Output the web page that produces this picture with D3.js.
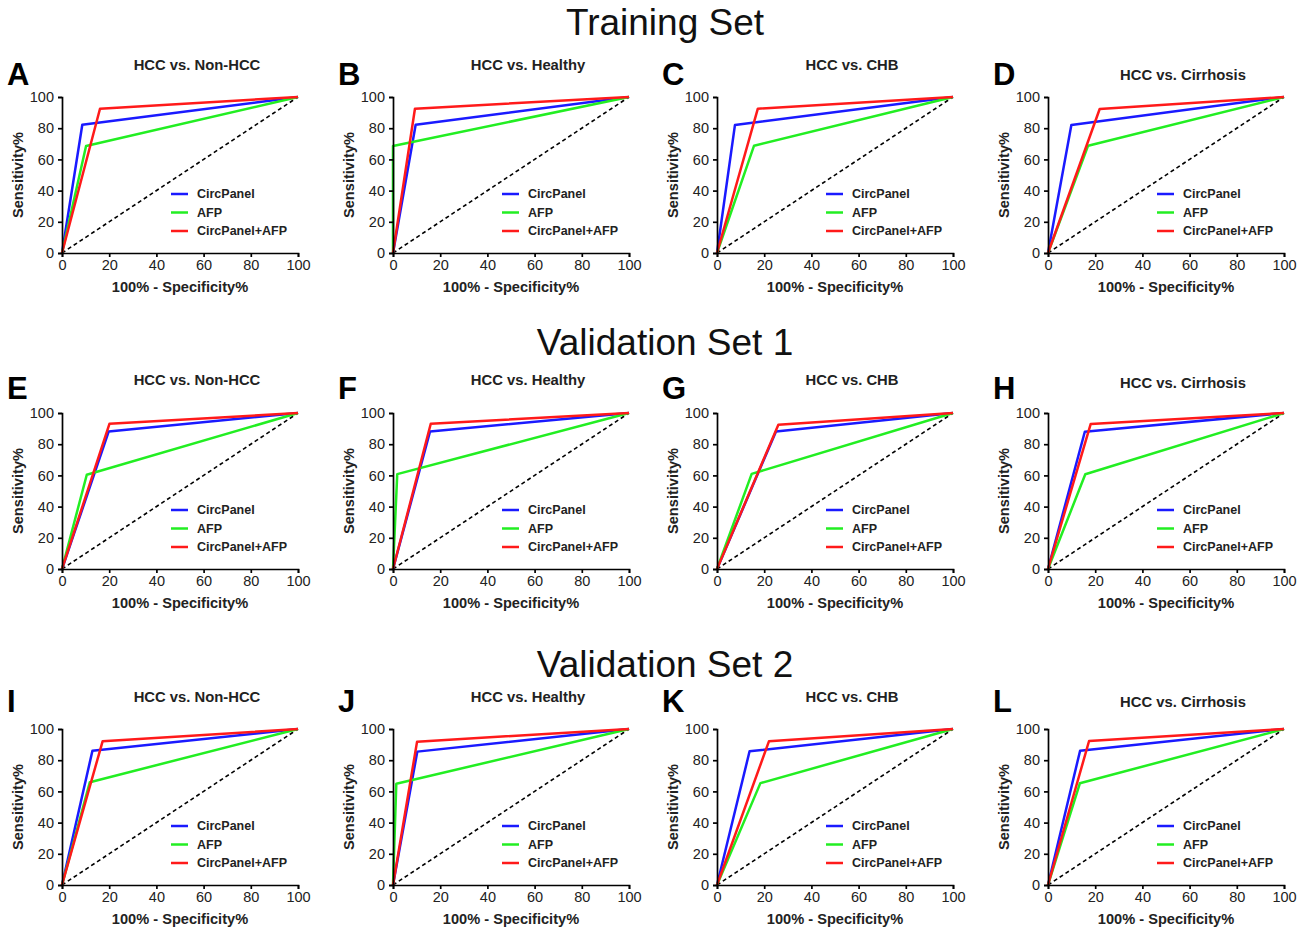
<!DOCTYPE html>
<html>
<head>
<meta charset="utf-8">
<script src="https://cdn.jsdelivr.net/npm/d3@7"></script>
<style>
  body { margin: 0; background: #fff; }
  svg { display: block; font-family: Arial, "Liberation Sans", sans-serif; }
</style>
</head>
<body>
<div id="chart"></div>
<script>
// ---- data ----
var rowTitles = ["Training Set", "Validation Set 1", "Validation Set 2"];
var panelLetters = ["A","B","C","D","E","F","G","H","I","J","K","L"];
var comparisons = ["HCC vs. Non-HCC", "HCC vs. Healthy", "HCC vs. CHB", "HCC vs. Cirrhosis"];
var seriesNames = ["CircPanel", "AFP", "CircPanel+AFP"];
var seriesColors = ["#1a1aff", "#22ee22", "#ff1a1a"];
var axisTicks = [0, 20, 40, 60, 80, 100];

// cut-off point of each ROC curve: [100% - Specificity%, Sensitivity%], panels A..L
var circPanel = [[8.6,82.2],[9.6,82.2],[7.6,82],[9.9,82],
                 [19.8,88.2],[15.7,88.2],[25,88.2],[15.6,88],
                 [12.9,86.1],[10.3,85.5],[13.8,85.7],[13.6,86.1]];
var afp =       [[10.2,68.6],[0,68.6],[15.7,68.8],[17,68.8],
                 [10.5,60.4],[1.8,60.8],[14.7,61],[15.8,60.7],
                 [11.8,65.9],[1.4,64.9],[18.4,65.3],[13.5,65.2]];
var combined =  [[16.1,92.5],[9.3,92.5],[17.3,92.5],[21.9,92.3],
                 [20.1,93.1],[16,93.1],[26,92.5],[18.1,93],
                 [17.2,92.1],[10.2,91.9],[22,92.1],[17.4,92.3]];

// ---- layout ----
var W = 1306, H = 931;
var colLeft = [62, 393, 717, 1048];
var rowTop = [97, 413, 729];
var pw = 236, ph = 156;
var titleBaseline = [[70,70,70,80],[385,385,385,388],[702,702,702,707]];
var letterBaseline = [85, 399, 712];
var rowTitleBaseline = [35, 355, 677];

var svg = d3.select("#chart").append("svg")
  .attr("width", W)
  .attr("height", H);

svg.append("rect").attr("width", W).attr("height", H).attr("fill", "#fff");

rowTitles.forEach(function(t, r) {
  svg.append("text")
    .attr("x", 665)
    .attr("y", rowTitleBaseline[r])
    .attr("text-anchor", "middle")
    .style("font-size", "37px")
    .style("fill", "#111")
    .text(t);
});

var x = d3.scaleLinear().domain([0, 100]).range([0, pw]);
var y = d3.scaleLinear().domain([0, 100]).range([ph, 0]);

var line = d3.line()
  .x(function(d) { return x(d[0]); })
  .y(function(d) { return y(d[1]); });

for (var r = 0; r < 3; r++) {
  for (var c = 0; c < 4; c++) {
    var i = r * 4 + c;
    var g = svg.append("g")
      .attr("transform", "translate(" + colLeft[c] + "," + rowTop[r] + ")");

    // panel letter
    svg.append("text")
      .attr("x", colLeft[c] - 55)
      .attr("y", letterBaseline[r])
      .style("font-size", "31px")
      .style("font-weight", "bold")
      .style("fill", "#000")
      .text(panelLetters[i]);

    // panel title
    svg.append("text")
      .attr("x", colLeft[c] + 135)
      .attr("y", titleBaseline[r][c])
      .attr("text-anchor", "middle")
      .style("font-size", "14.8px")
      .style("font-weight", "bold")
      .style("fill", "#222")
      .text(comparisons[c]);

    // reference diagonal
    g.append("path")
      .datum([[0, 0], [100, 100]])
      .attr("d", line)
      .attr("fill", "none")
      .attr("stroke", "#000")
      .attr("stroke-width", 1.6)
      .attr("stroke-dasharray", "4,3");

    var curves = [circPanel[i], afp[i], combined[i]];
    curves.forEach(function(pt, s) {
      g.append("path")
        .datum([[0, 0], pt, [100, 100]])
        .attr("d", line)
        .attr("fill", "none")
        .attr("stroke", seriesColors[s])
        .attr("stroke-width", 2.5)
        .attr("stroke-linejoin", "round");
    });

    // axes
    var xAxis = g.append("g")
      .attr("transform", "translate(0," + ph + ")")
      .call(d3.axisBottom(x).tickValues(axisTicks).tickSize(4).tickPadding(3));
    var yAxis = g.append("g")
      .call(d3.axisLeft(y).tickValues(axisTicks).tickSize(4).tickPadding(4));
    [xAxis, yAxis].forEach(function(a) {
      a.select(".domain").attr("stroke", "#000").attr("stroke-width", 1.7);
      a.selectAll(".tick line").attr("stroke", "#000").attr("stroke-width", 1.7);
      a.selectAll(".tick text")
        .style("font-size", "14.5px")
        .style("font-family", "Arial, 'Liberation Sans', sans-serif")
        .attr("fill", "#222");
    });

    // axis titles
    g.append("text")
      .attr("x", pw / 2)
      .attr("y", ph + 39)
      .attr("text-anchor", "middle")
      .style("font-size", "14.6px")
      .style("font-weight", "bold")
      .style("fill", "#222")
      .text("100% - Specificity%");

    g.append("text")
      .attr("transform", "translate(-39," + (ph / 2) + ") rotate(-90)")
      .attr("text-anchor", "middle")
      .style("font-size", "14.6px")
      .style("font-weight", "bold")
      .style("fill", "#222")
      .text("Sensitivity%");

    // legend
    var leg = g.append("g").attr("transform", "translate(109,97)");
    seriesNames.forEach(function(n, s) {
      var row = leg.append("g").attr("transform", "translate(0," + (s * 18.5) + ")");
      row.append("line")
        .attr("x1", 0).attr("x2", 17)
        .attr("stroke", seriesColors[s])
        .attr("stroke-width", 2.5);
      row.append("text")
        .attr("x", 26)
        .attr("dy", "0.35em")
        .style("font-size", "12.5px")
        .style("font-weight", "bold")
        .style("fill", "#222")
        .text(n);
    });
  }
}
</script>
</body>
</html>
